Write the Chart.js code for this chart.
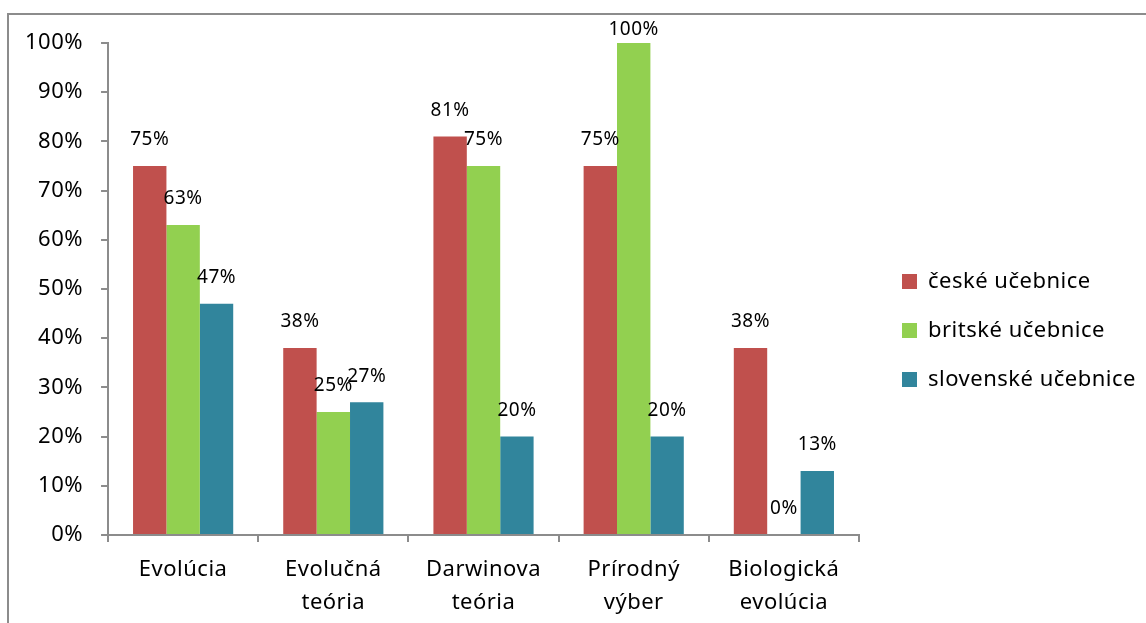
<!DOCTYPE html>
<html lang="sk">
  <head>
    <meta charset="utf-8" />
    <title>Evolúcia v učebniciach</title>
    <style>
      * { margin: 0; padding: 0; box-sizing: border-box; }
      body { background: #ffffff; width: 1146px; height: 623px; overflow: hidden; }
      .wrapper { position: relative; width: 1146px; height: 623px; }
    </style>
  </head>
  <body>
    <div class="wrapper">
      <canvas id="chart" width="1146" height="623"></canvas>
    </div>
    <script src="https://cdn.jsdelivr.net/npm/chart.js@4.4.1/dist/chart.umd.min.js"></script>
    <script>
      // categories (two lines each) and series values in %
      const categories = [
        ["Evolúcia"],
        ["Evolučná", "teória"],
        ["Darwinova", "teória"],
        ["Prírodný", "výber"],
        ["Biologická", "evolúcia"],
      ];
      const seriesNames = ["české učebnice", "britské učebnice", "slovenské učebnice"];
      const ceske = [75, 38, 81, 75, 38];
      const britske = [63, 25, 75, 100, 0];
      const slovenske = [47, 27, 20, 20, 13];
      const colors = ["#c0504d", "#92d050", "#31859c"];

      const FONT = "'Noto Sans', sans-serif";
      const SPACING = "0.5px";
      const LEGEND_GAP = 16; // extra room between plot and legend

      // Excel-like letter spacing for all canvas text
      const spacingPlugin = {
        id: "spacing",
        beforeUpdate(chart) { chart.ctx.letterSpacing = SPACING; },
        beforeDraw(chart) { chart.ctx.letterSpacing = SPACING; },
      };

      // widen the legend box and keep the extra room on its left side
      const legendGapPlugin = {
        id: "legendGap",
        afterInit(chart) {
          const lg = chart.legend;
          const fit = lg.fit.bind(lg);
          lg.fit = function () {
            fit();
            this.width += LEGEND_GAP;
          };
        },
        afterLayout(chart) {
          chart.legend.left += LEGEND_GAP;
        },
      };

      // grey frame round the whole chart
      const framePlugin = {
        id: "frame",
        beforeDraw(chart) {
          const ctx = chart.ctx;
          ctx.save();
          ctx.strokeStyle = "#8c8c8c";
          ctx.lineWidth = 2;
          ctx.strokeRect(8, 14, chart.width + 10, chart.height + 10);
          ctx.restore();
        },
      };

      // value labels above each bar
      const labelPlugin = {
        id: "valueLabels",
        afterDatasetsDraw(chart) {
          const ctx = chart.ctx;
          ctx.save();
          ctx.letterSpacing = SPACING;
          ctx.font = "19px " + FONT;
          ctx.fillStyle = "#000000";
          ctx.textAlign = "center";
          ctx.textBaseline = "middle";
          chart.data.datasets.forEach((ds, i) => {
            chart.getDatasetMeta(i).data.forEach((bar, j) => {
              const y = Math.max(bar.y - 26, chart.chartArea.top - 13);
              ctx.fillText(ds.data[j] + "%", bar.x, y);
            });
          });
          ctx.restore();
        },
      };

      new Chart(document.getElementById("chart"), {
        type: "bar",
        plugins: [spacingPlugin, legendGapPlugin, framePlugin, labelPlugin],
        data: {
          labels: categories,
          datasets: [
            { label: seriesNames[0], data: ceske, backgroundColor: colors[0] },
            { label: seriesNames[1], data: britske, backgroundColor: colors[1] },
            { label: seriesNames[2], data: slovenske, backgroundColor: colors[2] },
          ],
        },
        options: {
          responsive: false,
          animation: false,
          devicePixelRatio: 1,
          layout: { padding: { left: 7, top: 43, right: 0, bottom: 5 } },
          datasets: { bar: { categoryPercentage: 0.667, barPercentage: 1 } },
          plugins: {
            tooltip: { enabled: false },
            legend: {
              position: "right",
              labels: {
                boxWidth: 15,
                boxHeight: 15,
                padding: 27,
                color: "#000000",
                font: { family: FONT, size: 22 },
              },
            },
          },
          scales: {
            x: {
              border: { color: "#8c8c8c", width: 2 },
              grid: { display: true, drawOnChartArea: false, tickLength: 7, color: "#8c8c8c", lineWidth: 2 },
              ticks: { color: "#000000", font: { family: FONT, size: 22, lineHeight: 1.5 }, padding: 11, maxRotation: 0, autoSkip: false },
              afterFit: (scale) => { scale.height -= 12; },
            },
            y: {
              min: 0,
              max: 100,
              border: { color: "#8c8c8c", width: 2 },
              grid: { display: true, drawOnChartArea: false, tickLength: 7, color: "#8c8c8c", lineWidth: 2 },
              ticks: {
                stepSize: 10,
                color: "#000000",
                padding: 18,
                font: { family: FONT, size: 22 },
                callback: (v) => v + "%",
              },
            },
          },
        },
      });
    </script>
  </body>
</html>
